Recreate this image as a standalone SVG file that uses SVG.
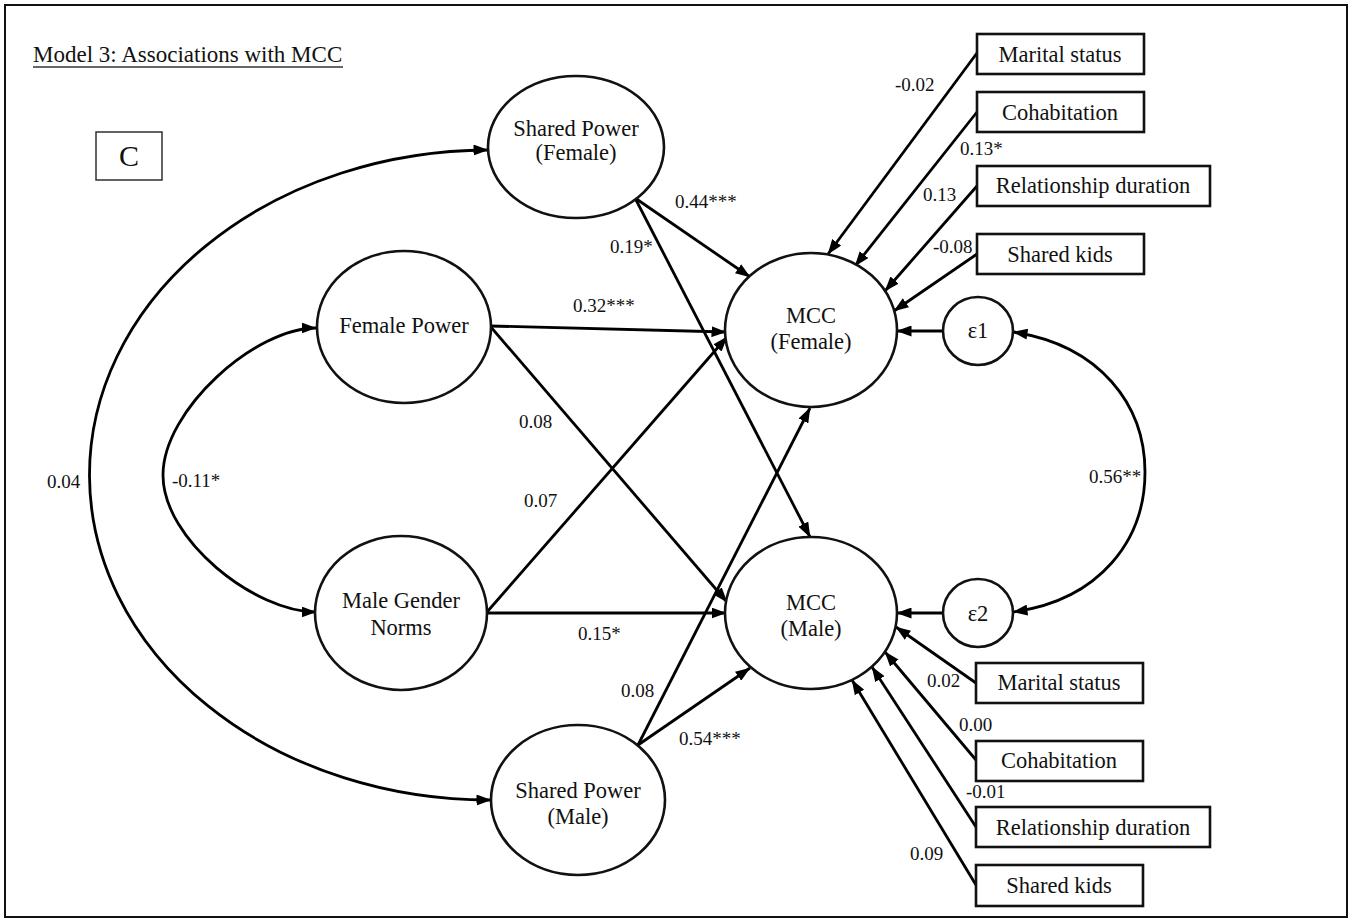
<svg xmlns="http://www.w3.org/2000/svg" width="1355" height="921" viewBox="0 0 1355 921">
<style>
.t{font-family:"Liberation Serif","Times New Roman",serif;fill:#111;}
.n{font-size:22.5px;text-anchor:middle;}
.l{font-size:19px;}
.sh{fill:#fff;stroke:#111;stroke-width:2.6;}
.c{fill:none;stroke:#000;stroke-width:2.8;marker-end:url(#ah);}
.d{fill:none;stroke:#000;stroke-width:2.8;marker-start:url(#ah);marker-end:url(#ah);}
</style>
<defs>
<marker id="ah" viewBox="0 0 15 11" refX="14.5" refY="5.5" markerWidth="15" markerHeight="11" markerUnits="userSpaceOnUse" orient="auto-start-reverse">
<path d="M0,0 L15,5.5 L0,11 z" fill="#000"/>
</marker>
</defs>
<rect x="0" y="0" width="1355" height="921" fill="#fff"/>
<rect x="5" y="5" width="1342" height="912" fill="none" stroke="#111" stroke-width="2"/>
<g id="title">
<text class="t" x="33" y="62" font-size="23">Model 3: Associations with MCC</text>
<line x1="33" y1="67" x2="343" y2="67" stroke="#333" stroke-width="1.3"/>
</g>
<g id="panel-label">
<rect x="96" y="132" width="66" height="48" fill="#fff" stroke="#222" stroke-width="1.4"/>
<text class="t" x="129" y="166" font-size="30" text-anchor="middle">C</text>
</g>
<g id="connectors">
<path class="d" d="M488,150 A400,325 0 0 0 491,800"/>
<path class="d" d="M316,328 C255,328 163,410 163,475 C163,540 255,612 316,612"/>
<path class="d" d="M1013,332 C1100,345 1145,405 1145,472 C1145,540 1100,600 1013,612"/>
<path class="c" d="M635,198 L750,277"/>
<path class="c" d="M635,198 L810,537"/>
<path class="c" d="M490,326 L726,332"/>
<path class="c" d="M490,326 L727,602"/>
<path class="c" d="M487,612 L727,337"/>
<path class="c" d="M487,613 L726,613"/>
<path class="c" d="M638,745 L810,408"/>
<path class="c" d="M638,745 L750,668"/>
<path class="c" d="M977,53 L828,254"/>
<path class="c" d="M977,112 L855,266"/>
<path class="c" d="M977,186 L885,291"/>
<path class="c" d="M977,254 L894,311"/>
<path class="c" d="M943,331 L897,331"/>
<path class="c" d="M943,613 L897,613"/>
<path class="c" d="M976,683 L896,627"/>
<path class="c" d="M976,760 L885,652"/>
<path class="c" d="M976,827 L872,667"/>
<path class="c" d="M976,885 L852,680"/>
</g>
<g id="labels" class="t l">
<text x="895" y="91">-0.02</text>
<text x="960" y="155">0.13*</text>
<text x="923" y="201">0.13</text>
<text x="933" y="253">-0.08</text>
<text x="927" y="687">0.02</text>
<text x="959" y="731">0.00</text>
<text x="966" y="798">-0.01</text>
<text x="910" y="860">0.09</text>
<text x="675" y="208">0.44***</text>
<text x="610" y="253">0.19*</text>
<text x="573" y="312">0.32***</text>
<text x="519" y="428">0.08</text>
<text x="524" y="507">0.07</text>
<text x="578" y="640">0.15*</text>
<text x="621" y="697">0.08</text>
<text x="679" y="745">0.54***</text>
<text x="47" y="488">0.04</text>
<text x="172" y="487">-0.11*</text>
<text x="1089" y="483">0.56**</text>
</g>
<g id="shared-power-female">
<ellipse class="sh" cx="576" cy="147" rx="88" ry="71"/>
<text class="t n" x="576" y="136">Shared Power</text>
<text class="t n" x="576" y="160">(Female)</text>
</g>
<g id="female-power">
<ellipse class="sh" cx="404" cy="327" rx="87" ry="76"/>
<text class="t n" x="404" y="333">Female Power</text>
</g>
<g id="male-gender-norms">
<ellipse class="sh" cx="401" cy="613" rx="86" ry="77"/>
<text class="t n" x="401" y="608">Male Gender</text>
<text class="t n" x="401" y="635">Norms</text>
</g>
<g id="shared-power-male">
<ellipse class="sh" cx="578" cy="800" rx="87" ry="75"/>
<text class="t n" x="578" y="798">Shared Power</text>
<text class="t n" x="578" y="824">(Male)</text>
</g>
<g id="mcc-female">
<ellipse class="sh" cx="811" cy="330" rx="86" ry="77"/>
<text class="t n" x="811" y="323">MCC</text>
<text class="t n" x="811" y="349">(Female)</text>
</g>
<g id="mcc-male">
<ellipse class="sh" cx="811" cy="613" rx="86" ry="76"/>
<text class="t n" x="811" y="610">MCC</text>
<text class="t n" x="811" y="636">(Male)</text>
</g>
<g id="e1">
<ellipse class="sh" cx="978" cy="331" rx="35" ry="34"/>
<text class="t n" x="978" y="338">ε1</text>
</g>
<g id="e2">
<ellipse class="sh" cx="978" cy="613" rx="35" ry="34"/>
<text class="t n" x="978" y="621">ε2</text>
</g>
<g id="cov-marital-f">
<rect class="sh" x="977" y="34" width="167" height="40"/>
<text class="t n" x="1060" y="62">Marital status</text>
</g>
<g id="cov-cohab-f">
<rect class="sh" x="977" y="92" width="167" height="40"/>
<text class="t n" x="1060" y="120">Cohabitation</text>
</g>
<g id="cov-duration-f">
<rect class="sh" x="977" y="166" width="233" height="40"/>
<text class="t n" x="1093" y="193">Relationship duration</text>
</g>
<g id="cov-kids-f">
<rect class="sh" x="977" y="234" width="167" height="40"/>
<text class="t n" x="1060" y="262">Shared kids</text>
</g>
<g id="cov-marital-m">
<rect class="sh" x="976" y="663" width="167" height="40"/>
<text class="t n" x="1059" y="690">Marital status</text>
</g>
<g id="cov-cohab-m">
<rect class="sh" x="976" y="741" width="167" height="40"/>
<text class="t n" x="1059" y="768">Cohabitation</text>
</g>
<g id="cov-duration-m">
<rect class="sh" x="976" y="807" width="234" height="40"/>
<text class="t n" x="1093" y="835">Relationship duration</text>
</g>
<g id="cov-kids-m">
<rect class="sh" x="976" y="865" width="167" height="41"/>
<text class="t n" x="1059" y="893">Shared kids</text>
</g>
</svg>
